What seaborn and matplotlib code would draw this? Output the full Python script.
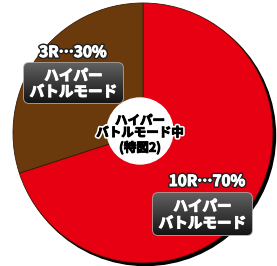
import numpy as np
import matplotlib.pyplot as plt
import matplotlib.patheffects as pe
from matplotlib.patches import FancyBboxPatch, Circle
import seaborn as sns

sns.set_theme(style="white")
plt.rcParams['font.family'] = ['Noto Sans CJK JP', 'DejaVu Sans']

# データ
rounds = ["10R", "3R"]
shares = [70, 30]
modes = ["ハイパー\nバトルモード", "ハイパー\nバトルモード"]
center_lines = ["ハイパー", "バトルモード中", "(特図2)"]
colors = ["#e60012", "#6b3a0c"]

W, H = 277, 266
fig = plt.figure(figsize=(W / 100, H / 100), dpi=100)
ax = fig.add_axes([0, 0, 1, 1])
ax.set_xlim(0, W)
ax.set_ylim(0, H)
ax.set_aspect("equal")
ax.axis("off")

cx, cy, r = 143, H - 133, 130

# 影
ax.add_patch(Circle((cx + 2.5, cy - 2.5), r, color="black", zorder=0))
ax.pie(shares, colors=colors, startangle=90, counterclock=False,
       center=(cx, cy), radius=r, frame=True,
       wedgeprops=dict(linewidth=0.6, edgecolor="#3a1c05"))
ax.set_xlim(0, W)
ax.set_ylim(0, H)
ax.axis("off")

# 中央の白丸
ax.add_patch(Circle((cx - 3, H - 131), 33, color="white", zorder=3))
stroke_w = [pe.Stroke(linewidth=3, foreground="white"),
            pe.Stroke(linewidth=0.7, foreground="black"), pe.Normal()]
for txt, y, fs in zip(center_lines, [121, 133, 148], [9, 9, 9]):
    ax.text(cx - 3, H - y, txt, ha="center", va="center", fontsize=fs,
            fontweight="bold", color="black", zorder=5, path_effects=stroke_w)

# ラベル枠
grad = np.linspace(0.38, 0.08, 64).reshape(-1, 1)
label_pos = [(207, 181, 153, 193, 99, 42), (73, 52, 24, 63, 99, 40)]
stroke_k = [pe.Stroke(linewidth=2.8, foreground="#222222"),
            pe.Stroke(linewidth=0.7, foreground="white"), pe.Normal()]
stroke_t = [pe.Stroke(linewidth=0.8, foreground="white"), pe.Normal()]
for name, pct, mode, (tx, ty, bx, by, bw, bh) in zip(rounds, shares, modes, label_pos):
    ax.text(tx, H - ty, f"{name}…{pct}%", ha="center", va="center",
            fontsize=11, fontweight="bold", color="white", zorder=6,
            path_effects=stroke_k)
    box = FancyBboxPatch((bx + 5, H - by - bh + 5), bw - 10, bh - 10,
                         boxstyle="round,pad=5", facecolor="#222222",
                         edgecolor="#a8a8a8", linewidth=1.2, zorder=4)
    ax.add_patch(box)
    im = ax.imshow(grad, cmap="gray", vmin=0, vmax=1, aspect="auto",
                   extent=(bx, bx + bw, H - by - bh, H - by), zorder=4.5)
    im.set_clip_path(box)
    l1, l2 = mode.split("\n")
    ax.text(bx + bw / 2, H - by - bh * 0.31, l1, ha="center", va="center",
            fontsize=10.5, fontweight="bold", color="white", zorder=6,
            path_effects=stroke_t)
    ax.text(bx + bw / 2, H - by - bh * 0.71, l2, ha="center", va="center",
            fontsize=10.5, fontweight="bold", color="white", zorder=6,
            path_effects=stroke_t)

ax.set_xlim(0, W)
ax.set_ylim(0, H)
fig.savefig("out.png", dpi=100, facecolor="white")
